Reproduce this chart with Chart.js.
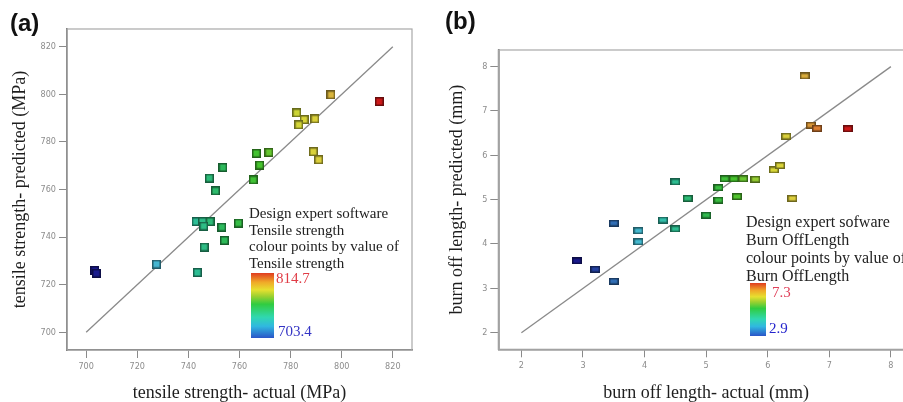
<!DOCTYPE html>
<html>
<head>
<meta charset="utf-8">
<script src="https://cdn.jsdelivr.net/npm/chart.js@4/dist/chart.umd.min.js"></script>
<style>
  html, body { margin: 0; padding: 0; background: #fff; }
  #page { position: relative; width: 903px; height: 402px; overflow: hidden; }
  canvas { position: absolute; top: 0; }
  #chartA { left: 0; }
  #chartB { left: 444px; }
  .tag { position: absolute; font: bold 24px 'Liberation Sans', Arial, sans-serif; line-height: 24px; color: #111; }
  .legend { position: absolute; font-family: 'Liberation Serif', 'Times New Roman', serif; color: #222; white-space: nowrap; }
  .bar { position: absolute; background: linear-gradient(to top, #2a55c8 0%, #30b8e0 18%, #30d8b0 32%, #30cc40 52%, #9ad030 64%, #e6e030 74%, #f0a828 86%, #e03c20 100%); }
  .val { position: absolute; font-family: 'Liberation Serif', 'Times New Roman', serif; white-space: nowrap; }
</style>
</head>
<body>
<div id="page">
  <canvas id="chartA" width="450" height="402"></canvas>
  <canvas id="chartB" width="520" height="402"></canvas>

  <div class="tag" style="left:10px;top:11px">(a)</div>
  <div class="tag" style="left:445px;top:9px">(b)</div>

  <div class="legend" style="left:249px;top:205px;font-size:15px;line-height:16.7px">
    Design expert software<br>Tensile strength<br>colour points by value of<br>Tensile strength
  </div>
  <div class="bar" style="left:251px;top:273px;width:23px;height:65px"></div>
  <div class="val" style="left:276px;top:270px;font-size:15px;line-height:17px;color:#e03c46">814.7</div>
  <div class="val" style="left:278px;top:323px;font-size:15px;line-height:17px;color:#3434c4">703.4</div>

  <div class="legend" style="left:746px;top:213px;font-size:16px;line-height:17.9px">
    Design expert sofware<br>Burn OffLength<br>colour points by value of<br>Burn OffLength
  </div>
  <div class="bar" style="left:750px;top:283px;width:16px;height:53px"></div>
  <div class="val" style="left:772px;top:284px;font-size:15px;line-height:17px;color:#e0405a">7.3</div>
  <div class="val" style="left:769px;top:320px;font-size:15px;line-height:17px;color:#2424cc">2.9</div>
</div>

<script>
// (a) tensile strength, MPa
const tsActual = [703.4, 704, 727.5, 743.5, 746.2, 754.1, 753.1, 759.6, 743, 745.5, 748.5, 746, 750.6, 748.2, 753.5, 765.4, 767.9, 766.6, 771.5, 788.9, 791, 782.4, 785.3, 783.2, 789.5, 795.8, 814.7]
const tsPredicted = [726, 724.8, 728.6, 725.1, 735.8, 738.6, 744.2, 745.9, 746.5, 746.5, 746.5, 744.6, 759.4, 764.8, 769.3, 764, 770.3, 775.2, 775.6, 775.9, 772.5, 792.2, 789.4, 787.2, 789.7, 799.8, 797]
const tsTicks = [700, 720, 740, 760, 780, 800, 820]
const tsLine = [700, 820]
const tsColourRange = [703.4, 814.7]

// (b) burn off length, mm
const blActual = [2.9, 3.2, 3.5, 3.5, 3.9, 3.9, 4.3, 4.5, 4.5, 4.7, 5.0, 5.2, 5.2, 5.3, 5.45, 5.6, 5.5, 5.8, 6.1, 6.2, 6.4, 6.3, 6.7, 6.8, 7.3, 6.6]
const blPredicted = [3.62, 3.43, 3.16, 4.47, 4.3, 4.05, 4.54, 4.34, 5.4, 5.03, 4.65, 5.27, 4.99, 5.47, 5.47, 5.47, 5.07, 5.46, 5.67, 5.77, 5.03, 6.43, 6.68, 6.61, 6.6, 7.79]
const blTicks = [2, 3, 4, 5, 6, 7, 8]
const blLine = [2, 8]
const blColourRange = [2.9, 7.3]

const stops = [
  [0.00, [25, 25, 140]],
  [0.12, [45, 95, 175]],
  [0.22, [70, 185, 210]],
  [0.34, [45, 190, 160]],
  [0.46, [45, 185, 85]],
  [0.58, [70, 195, 45]],
  [0.66, [150, 205, 50]],
  [0.72, [215, 215, 55]],
  [0.80, [220, 205, 60]],
  [0.85, [215, 165, 60]],
  [0.90, [220, 110, 45]],
  [1.00, [205, 25, 25]],
]

function colourAt(t) {
  t = Math.max(0, Math.min(1, t))
  for (let i = 1; i < stops.length; i++) {
    if (t <= stops[i][0]) {
      const [t0, c0] = stops[i - 1]
      const [t1, c1] = stops[i]
      const f = (t - t0) / (t1 - t0)
      return c0.map((v, k) => Math.round(v + (c1[k] - v) * f))
    }
  }
  return stops[stops.length - 1][1]
}

function marker(w, h, rgb) {
  const c = document.createElement('canvas')
  c.width = w
  c.height = h
  const g = c.getContext('2d')
  g.fillStyle = `rgb(${rgb.map(v => Math.round(v * 0.5)).join(',')})`
  g.fillRect(0, 0, w, h)
  g.fillStyle = `rgb(${rgb.join(',')})`
  g.fillRect(1.5, 1.5, w - 3, h - 3)
  return c
}

const tickFont = { family: "'Liberation Sans Narrow', 'DejaVu Sans Condensed', 'Liberation Sans', sans-serif", size: 9 }
const titleFont = { family: "'Liberation Serif', 'Times New Roman', serif", size: 18, lineHeight: 1 }

const framePlugin = {
  id: 'frame',
  beforeDatasetsDraw(chart) {
    const { ctx, chartArea: a } = chart
    ctx.save()
    ctx.strokeStyle = '#a8a8a8'
    ctx.lineWidth = 1.2
    ctx.strokeRect(a.left, a.top, a.right - a.left, a.bottom - a.top)
    ctx.restore()
  },
}

function axis(ticks, min, max, title, fitSize, isX, titlePad) {
  return {
    type: 'linear',
    min,
    max,
    afterBuildTicks: scale => { scale.ticks = ticks.map(v => ({ value: v })) },
    afterFit: scale => {
      if (isX) scale.height = fitSize
      else scale.width = fitSize
    },
    grid: { drawOnChartArea: false, drawTicks: true, tickLength: 8, color: '#8a8a8a', lineWidth: 1 },
    border: { display: true, color: '#6e6e6e', width: 1.6 },
    ticks: { font: tickFont, color: '#8c8c8c', padding: 3, maxRotation: 0 },
    title: { display: true, text: title, font: titleFont, color: '#1e1e1e', padding: titlePad },
  }
}

function makeChart(id, opts) {
  const t0 = opts.colourRange[0]
  const span = opts.colourRange[1] - t0
  const markers = opts.actual.map(v => marker(opts.mw, opts.mh, colourAt((v - t0) / span)))
  return new Chart(document.getElementById(id), {
    type: 'scatter',
    data: {
      datasets: [
        {
          data: opts.actual.map((x, i) => ({ x, y: opts.predicted[i] })),
          pointStyle: markers,
          pointRadius: 5,
        },
        {
          data: opts.line.map(v => ({ x: v, y: v })),
          showLine: true,
          borderColor: '#8a8a8a',
          borderWidth: 1.3,
          pointRadius: 0,
        },
      ],
    },
    options: {
      responsive: false,
      animation: false,
      layout: { padding: opts.padding },
      plugins: { legend: { display: false }, tooltip: { enabled: false } },
      scales: {
        x: axis(opts.ticks, opts.min, opts.max, opts.xTitle, opts.xFit, true, { top: 0, bottom: 0 }),
        y: axis(opts.ticks, opts.min, opts.max, opts.yTitle, opts.yFit, false, { top: opts.yTitlePad, bottom: 0 }),
      },
    },
    plugins: [framePlugin],
  })
}

makeChart('chartA', {
  actual: tsActual,
  predicted: tsPredicted,
  ticks: tsTicks,
  line: tsLine,
  colourRange: tsColourRange,
  min: 692.5,
  max: 827.5,
  xTitle: 'tensile strength- actual (MPa)',
  yTitle: 'tensile strength- predicted (MPa)',
  padding: { left: 0, top: 29, right: 38, bottom: 0 },
  xFit: 52,
  yFit: 67,
  yTitlePad: 11,
  mw: 9,
  mh: 9,
})

makeChart('chartB', {
  actual: blActual,
  predicted: blPredicted,
  ticks: blTicks,
  line: blLine,
  colourRange: blColourRange,
  min: 1.625,
  max: 8.375,
  xTitle: 'burn off length- actual (mm)',
  yTitle: 'burn off length- predicted (mm)',
  padding: { left: 0, top: 50, right: 50, bottom: 0 },
  xFit: 52.7,
  yFit: 54.3,
  yTitlePad: 4,
  mw: 10,
  mh: 7,
})
</script>
</body>
</html>
